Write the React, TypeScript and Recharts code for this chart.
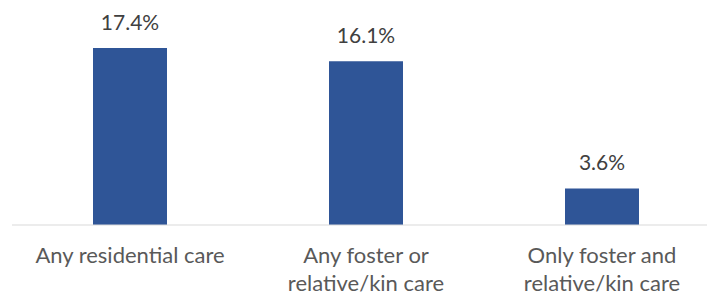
import React from 'react';
import { BarChart, Bar, XAxis, YAxis, LabelList } from 'recharts';

const categories = ['Any residential care', 'Any foster or\nrelative/kin care', 'Only foster and\nrelative/kin care'];
const values = [17.4, 16.1, 3.6];
const valueLabels = ['17.4%', '16.1%', '3.6%'];

const data = categories.map((c, i) => ({ name: c, value: values[i], label: valueLabels[i] }));

const FONT = 'Lato, "Open Sans", sans-serif';

const Tick = (props: any) => {
  const { x, y, payload } = props;
  const lines = String(payload.value).split('\n');
  return (
    <text x={x} y={y} textAnchor="middle" fill="#595959" fontSize={22} fontFamily={FONT}>
      {lines.map((l, i) => (
        <tspan key={i} x={x} y={225 + 38 + i * 28}>{l}</tspan>
      ))}
    </text>
  );
};

const ValueLabel = (props: any) => {
  const { x, y, width, value } = props;
  return (
    <text x={x + width / 2} y={y - 18} textAnchor="middle" fill="#404040" fontSize={21} fontFamily={FONT}>
      {value}
    </text>
  );
};

export default function App() {
  return (
    <div style={{ position: 'absolute', left: 0, top: 0, width: 707, height: 295, overflow: 'hidden', background: '#fff' }}>
      <BarChart width={730} height={295} data={data} margin={{ top: 21.6, right: 10, bottom: 0, left: 12 }}>
        <XAxis
          dataKey="name"
          axisLine={{ stroke: '#D9D9D9', strokeWidth: 1 }}
          tickLine={false}
          tick={<Tick />}
          interval={0}
          height={70}
        />
        <YAxis hide domain={[0, 20]} />
        <Bar dataKey="value" fill="#2F5597" barSize={74} isAnimationActive={false}>
          <LabelList dataKey="label" content={<ValueLabel />} />
        </Bar>
      </BarChart>
    </div>
  );
}
